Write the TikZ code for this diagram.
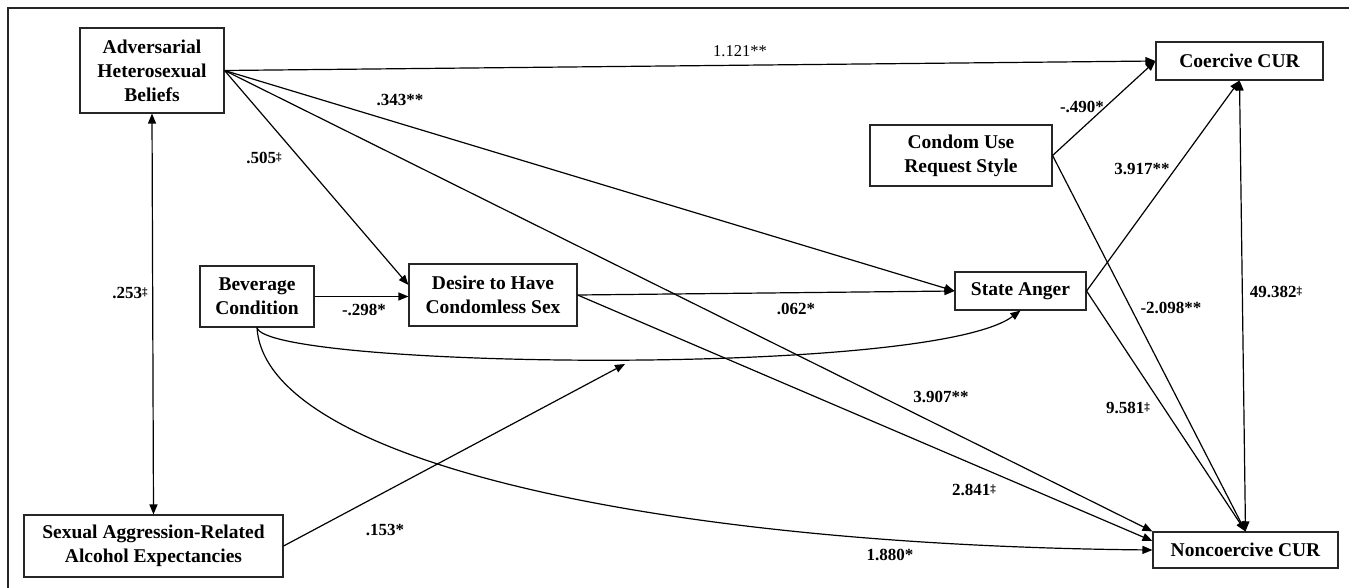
\documentclass[tikz,border=0pt]{standalone}
\usepackage{fontspec}
\setmainfont{Liberation Serif}
\usetikzlibrary{arrows.meta}
\newcommand\dagmark{\raisebox{3pt}{\fontsize{11}{11}\selectfont ‡}}
\tikzset{
  box/.style={draw=black!85, line width=1.1pt, inner sep=0pt, align=center,
    font=\fontsize{19.5}{24}\selectfont\bfseries},
  lab/.style={inner sep=0pt, font=\fontsize{17}{20}\selectfont\bfseries},
  labn/.style={inner sep=0pt, font=\fontsize{16.5}{20}\selectfont},
  path/.style={line width=1.2pt, -{Triangle[length=10pt,width=8pt]}},
  bipath/.style={line width=1.2pt, {Triangle[length=10pt,width=8pt]}-{Triangle[length=10pt,width=8pt]}},
}
\begin{document}
\begin{tikzpicture}[x=1pt,y=-1pt]
\useasboundingbox (0,0) rectangle (1349,588);
\fill[white] (0,0) rectangle (1349,588);
% frame (top and left)
\draw[line width=2pt, black!85] (8,590) -- (8,8) -- (1351,8);

% nodes
\node[box, minimum width=144pt, minimum height=85pt] (adv) at (152,70.5) {Adversarial\\Heterosexual\\Beliefs};
\node[box, minimum width=114pt, minimum height=61pt] (bev) at (257,296.5) {Beverage\\Condition};
\node[box, minimum width=168pt, minimum height=62pt] (des) at (493,295) {Desire to Have\\Condomless Sex};
\node[box, minimum width=131pt, minimum height=38pt] (ang) at (1020.5,291) {State Anger};
\node[box, minimum width=182pt, minimum height=61pt] (con) at (961,155.5) {Condom Use\\Request Style};
\node[box, minimum width=167pt, minimum height=38pt] (coe) at (1239.5,61) {Coercive CUR};
\node[box, minimum width=185pt, minimum height=36pt] (non) at (1245.5,550) {Noncoercive CUR};
\node[box, minimum width=259pt, minimum height=62pt] (sex) at (153.5,546) {Sexual Aggression-Related\\Alcohol Expectancies};

% connectors
\draw[bipath] (adv.south) -- (sex.north);
\draw[path] (adv.east) -- (coe.west);
\draw[path] (adv.east) -- (ang.west);
\draw[path] (adv.east) -- ([yshift=10pt]des.west);
\draw[path] (adv.east) -- (non.north west);
\draw[path] (bev.east) -- (bev.east -| des.west);
\draw[path] (des.east) -- (ang.west);
\draw[path] (des.east) -- ([yshift=9pt]non.west);
\draw[path] (bev.south) .. controls (265,368) and (930,378) .. (ang.south);
\draw[path] (bev.south) .. controls (265,460) and (650,545) .. (non.west);
\coordinate (mod) at (625,364);
\draw[path] (sex.east) -- (mod);
\draw[path] (con.east) -- (coe.west);
\draw[path] (con.east) -- (non.north);
\draw[path] (ang.east) -- (coe.south);
\draw[path] (ang.east) -- (non.north);
\draw[bipath] (coe.south) -- (non.north);

% labels
\node[lab] (l1) at (130,293) {.253\dagmark};
\node[labn] (l2) at (740,51) {1.121**};
\node[lab] (l3) at (400,100) {.343**};
\node[lab] (l4) at (264,158) {.505\dagmark};
\node[lab] (l5) at (364,310) {-.298*};
\node[lab] (l6) at (796,309) {.062*};
\node[lab] (l7) at (941,397) {3.907**};
\node[lab] (l8) at (974,490) {2.841\dagmark};
\node[lab] (l9) at (890,555) {1.880*};
\node[lab] (l10) at (385,530) {.153*};
\node[lab] (l11) at (1082,107) {-.490*};
\node[lab] (l12) at (1142,169) {3.917**};
\node[lab] (l13) at (1171,308) {-2.098**};
\node[lab] (l14) at (1128,408) {9.581\dagmark};
\node[lab] (l15) at (1276,292) {49.382\dagmark};
\end{tikzpicture}
\end{document}
